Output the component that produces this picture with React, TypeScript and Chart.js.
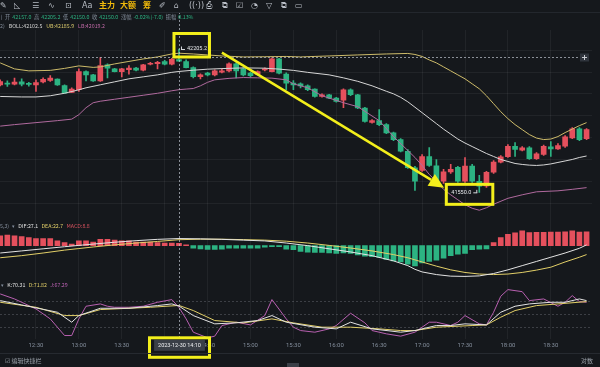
import React, { useEffect, useRef } from 'react';
import { Chart, registerables } from 'chart.js';
Chart.register(...registerables);

// ---------- data (5-minute candles, index 0 = 12:05) ----------
const openP = [42041.5, 42047.4, 42044.6, 42055.1, 42046.0, 42041.5, 42055.1, 42061.0, 42067.4, 42038.3,
  42006.4, 42018.7, 42102.0, 42086.9, 42059.7, 42132.5, 42114.3, 42102.0, 42111.1, 42117.5,
  42108.3, 42135.6, 42138.4, 42147.5, 42135.6, 42157.0, 42147.5, 42120.2, 42079.2, 42094.7,
  42086.9, 42099.3, 42105.2, 42137.0, 42114.3, 42094.7, 42090.1, 42109.7, 42102.0, 42159.7,
  42090.1, 42049.2, 42046.0, 42036.9, 42021.9, 41988.2, 41995.9, 41980.9, 41970.9, 42018.7,
  41995.9, 41935.4, 41869.9, 41877.7, 41859.5, 41821.7, 41791.2, 41737.9, 41662.5, 41650.2,
  41713.9, 41670.7, 41601.5, 41643.4, 41663.8, 41601.5, 41669.7, 41600.1, 41579.6, 41642.4,
  41687.9, 41712.5, 41760.7, 41742.5, 41753.5, 41703.4, 41722.9, 41758.0, 41748.9, 41760.7,
  41798.9, 41839.9, 41795.8];
const highP = [42064.2, 42059.7, 42071.9, 42068.8, 42052.9, 42064.2, 42073.3, 42083.8, 42068.8, 42041.5,
  42027.8, 42114.3, 42105.2, 42089.2, 42165.7, 42137.0, 42116.5, 42116.5, 42129.3, 42121.1,
  42134.7, 42143.8, 42148.4, 42152.9, 42162.0, 42205.2, 42155.2, 42123.4, 42091.5, 42098.4,
  42109.7, 42114.3, 42141.6, 42141.6, 42118.8, 42098.4, 42105.2, 42118.8, 42164.3, 42162.0,
  42096.1, 42061.0, 42050.6, 42041.5, 42023.3, 42000.5, 41998.2, 41984.6, 42023.3, 42023.3,
  41998.2, 41939.0, 41882.2, 41927.7, 41864.0, 41825.4, 41795.8, 41745.7, 41668.4, 41722.9,
  41754.8, 41700.2, 41654.7, 41677.5, 41668.4, 41709.3, 41677.5, 41627.4, 41645.6, 41695.7,
  41718.4, 41768.5, 41777.6, 41759.4, 41759.4, 41732.0, 41766.2, 41782.1, 41773.0, 41809.4,
  41845.8, 41845.8, 41841.3];
const lowP = [42036.9, 42033.7, 42041.5, 42036.9, 42034.7, 42010.9, 42050.6, 42056.5, 42039.2, 42002.8,
  42005.0, 42010.9, 42059.7, 42057.4, 42056.5, 42073.3, 42100.6, 42077.9, 42090.1, 42105.2,
  42105.2, 42132.5, 42114.3, 42132.5, 42132.5, 42150.0, 42118.8, 42073.3, 42068.8, 42082.4,
  42082.4, 42096.1, 42100.6, 42073.3, 42082.4, 42077.9, 42086.9, 42105.2, 42100.6, 42091.5,
  42018.7, 42018.7, 42027.8, 42014.2, 41984.6, 41984.6, 41977.7, 41961.8, 41936.8, 41991.4,
  41932.2, 41870.8, 41866.3, 41854.9, 41818.5, 41786.7, 41734.4, 41659.2, 41559.2, 41645.6,
  41668.4, 41595.6, 41591.0, 41636.5, 41595.6, 41595.6, 41595.6, 41550.0, 41572.8, 41636.5,
  41684.3, 41709.3, 41713.9, 41738.9, 41700.2, 41700.2, 41718.4, 41713.9, 41745.7, 41754.8,
  41795.8, 41786.7, 41791.2];
const closeP = [42056.5, 42044.6, 42053.8, 42044.6, 42043.3, 42051.9, 42066.5, 42071.9, 42041.5, 42003.7,
  42021.9, 42102.0, 42086.9, 42059.7, 42129.3, 42117.5, 42102.0, 42114.3, 42117.5, 42108.3,
  42132.5, 42140.2, 42144.7, 42135.6, 42158.4, 42150.0, 42120.2, 42079.2, 42086.9, 42086.9,
  42105.2, 42105.2, 42137.0, 42105.2, 42086.9, 42083.8, 42102.0, 42114.3, 42159.7, 42094.7,
  42049.2, 42041.5, 42036.9, 42018.7, 41988.2, 41995.9, 41980.9, 41965.5, 42018.7, 41995.9,
  41935.4, 41874.5, 41877.7, 41859.5, 41821.7, 41791.2, 41737.9, 41662.5, 41601.5, 41713.9,
  41672.9, 41601.5, 41643.4, 41654.7, 41601.5, 41669.7, 41601.5, 41578.7, 41641.1, 41687.9,
  41712.5, 41760.7, 41745.7, 41753.5, 41703.4, 41726.1, 41760.7, 41748.9, 41763.9, 41803.5,
  41839.9, 41791.2, 41836.7];

// Bollinger bands [candle index, price]
const ubPts = [[0, 42141.6], [2, 42114.3], [4, 42105.2], [7, 42107.4], [9, 42116.5], [11, 42127.9], [13, 42121.1], [14, 42123.4], [16, 42137.0], [18, 42148.4], [20, 42159.7], [22, 42168.9], [24, 42182.5], [25, 42185.9], [27, 42182.5], [29, 42178.0], [31, 42173.4], [34, 42168.9], [37, 42169.8], [40, 42171.1], [42, 42168.9], [46, 42173.4], [50, 42178.0], [54, 42182.5], [57, 42184.8], [58, 42180.2], [59, 42171.1], [60, 42155.2], [61, 42141.6], [62, 42123.4], [63, 42105.2], [64, 42086.9], [65, 42068.8], [66, 42046.0], [67, 42023.3], [68, 41991.4], [69, 41955.0], [70, 41918.6], [71, 41886.7], [72, 41859.5], [73, 41836.7], [74, 41814.0], [75, 41798.0], [76, 41791.2], [77, 41793.5], [78, 41804.9], [79, 41823.1], [80, 41839.0], [81, 41854.9], [82, 41868.6]];
const mbPts = [[0, 41988.2], [3, 41986.0], [5, 41986.0], [7, 41991.4], [9, 42002.8], [11, 42018.7], [12, 42027.8], [14, 42041.5], [16, 42055.1], [18, 42068.8], [20, 42077.9], [22, 42086.9], [24, 42098.4], [25, 42102.5], [27, 42108.3], [29, 42112.9], [31, 42115.6], [34, 42118.8], [37, 42117.5], [39, 42113.3], [41, 42107.4], [43, 42098.4], [46, 42086.9], [48, 42073.3], [50, 42057.4], [52, 42036.9], [54, 42011.9], [55, 42000.2], [56, 41984.3], [57, 41963.8], [58, 41939.1], [59, 41914.1], [60, 41889.0], [61, 41864.0], [62, 41838.9], [63, 41816.2], [64, 41793.5], [65, 41775.3], [66, 41759.4], [67, 41743.4], [68, 41727.5], [69, 41713.9], [70, 41700.2], [71, 41691.1], [72, 41682.0], [73, 41677.5], [74, 41674.3], [75, 41672.9], [76, 41675.2], [77, 41679.8], [78, 41686.6], [79, 41693.4], [80, 41700.2], [81, 41709.3], [82, 41716.1]];
const lbPts = [[0, 41852.6], [2, 41859.5], [5, 41868.6], [8, 41877.7], [10, 41884.5], [11, 41905.0], [12, 41936.8], [13, 41959.6], [14, 41966.4], [16, 41975.5], [18, 41984.6], [20, 41993.7], [22, 42002.8], [24, 42014.2], [25, 42019.2], [26, 42021.9], [27, 42024.6], [28, 42036.9], [29, 42052.9], [30, 42064.2], [32, 42071.0], [34, 42074.7], [36, 42073.3], [38, 42071.9], [40, 42064.2], [41, 42046.0], [43, 42027.8], [45, 41991.4], [48, 41959.6], [50, 41941.4], [53, 41877.7], [55, 41804.9], [57, 41741.2], [58, 41709.3], [59, 41672.9], [60, 41631.9], [61, 41600.1], [62, 41563.7], [63, 41538.7], [64, 41516.0], [65, 41493.2], [66, 41477.2], [67, 41468.1], [68, 41479.5], [69, 41495.5], [71, 41522.7], [73, 41538.7], [75, 41552.4], [78, 41556.9], [80, 41563.7], [82, 41571.5]];

// MACD
const macdHist = [37, 40, 37, 35, 31, 27, 27, 27, 18, 12, 6, 18, 18, 14, 24, 24, 21, 18, 18, 14,
  14, 14, 12, 10, 10, 8.8, 3, -10, -12, -14, -14, -13, -10, -10, -10, -10, -10, -6, -4, -4,
  -13, -15, -22, -25, -26, -26, -28, -30, -28, -30, -35, -40, -42, -45, -52, -58, -62, -70, -77, -66,
  -60, -55, -48, -38, -32, -30, -15, -13, -12, 12, 31, 43, 49, 56, 50, 51, 51, 52, 52, 53, 56, 52, 53];
const difPts = [[0, -28], [3, -20], [6, -12], [9, -4], [11, 1], [13, 6], [16, 13], [19, 19], [22, 24], [25, 27.1], [28, 26], [31, 24], [34, 21], [37, 18], [40, 10], [43, 0], [46, -12], [49, -24], [52, -38], [55, -58], [57, -76], [58, -90], [59, -100], [61, -110], [63, -116], [65, -117], [67, -115], [69, -106], [71, -92], [73, -76], [75, -60], [77, -44], [79, -28], [81, -10], [82, 3]];
const deaPts = [[0, -46], [3, -38], [6, -28], [9, -17], [11, -11], [13, -5], [16, 3], [19, 10], [22, 16], [25, 22.7], [28, 24.5], [31, 24.5], [34, 23], [37, 21], [40, 17], [43, 10], [46, 1], [49, -9], [52, -20], [55, -34], [57, -46], [58, -54], [59, -62], [61, -78], [63, -92], [65, -102], [67, -108], [69, -110], [71, -108], [73, -102], [75, -93], [77, -82], [79, -62], [81, -44], [82, -34]];

// KDJ
const kPts = [[0, 83], [3, 73], [8, 56.1], [10, 33], [11, 48.4], [14, 65.3], [18, 65.3], [22, 71.5], [24, 75.4], [25, 70.31], [27, 48.4], [30, 29.2], [33, 31.5], [36, 36.9], [38, 48.4], [40, 33], [44, 21.5], [47, 17.6], [49, 33], [52, 17.6], [56, 9.9], [58, 13.7], [61, 25.3], [63, 25.3], [65, 29.2], [68, 26.8], [70, 56.1], [72, 70], [74, 75.4], [77, 79.2], [79, 79.2], [81, 86.9], [82, 83]];
const dPts = [[0, 79.2], [5, 67.6], [9, 48.4], [11, 48.4], [14, 62.3], [21, 67.6], [25, 71.82], [27, 60], [30, 36.9], [34, 31.5], [38, 40.7], [41, 31.5], [45, 21.5], [49, 21.5], [53, 17.6], [56, 13.7], [58, 13.7], [61, 21.5], [66, 25.3], [68, 26.8], [70, 44.6], [72, 60], [75, 71.5], [78, 75.4], [82, 80.7]];
const jPts = [[0, 98.5], [2, 86.9], [5, 63.8], [7, 40.7], [9, 2.2], [10, 2.2], [11, 40.7], [12, 70], [14, 75.4], [15, 70], [16, 67.6], [18, 67.6], [20, 70], [22, 79.2], [24, 85.4], [25, 67.29], [26, 40.7], [27, 9.9], [29, -3], [30, 0.7], [31, 25.3], [33, 33], [35, 26.8], [37, 48.4], [38, 85.4], [40, 40.7], [41, 21.5], [42, 13.7], [44, 9.9], [46, 17.6], [47, 25.3], [49, 53.8], [51, 31.5], [52, 13.7], [54, 6.1], [56, 0.7], [58, 9.9], [60, 33], [61, 33], [63, 25.3], [64, 33], [65, 48.4], [67, 29.2], [68, 26.8], [69, 56.1], [70, 93.1], [71, 108.5], [73, 103.8], [74, 83], [76, 86.9], [78, 70], [79, 79.2], [80, 94.6], [81, 80.7], [82, 79.2]];

// time axis
const tickIdx = [5, 11, 17, 23, 29, 35, 41, 47, 53, 59, 65, 71, 77];
const tickLabels = ['12:30', '13:00', '13:30', '14:00', '14:30', '15:00', '15:30', '16:00', '16:30', '17:00', '17:30', '18:00', '18:30'];

// crosshair / markers / annotation
const crossIdx = 25;
const crossPrice = 42168.9;
const crossLabel = '2023-12-30 14:10';
const maxIdx = 25, maxPrice = 42205.2;
const minIdx = 67, minPrice = 41550.0;
const arrowFrom = [31, 42188.4];
const arrowTo = [62.07, 41571.4];

// ---------- styles ----------
const BG = '#15181c';
const UP = '#e5505d';
const DOWN = '#2cb382';
const GRID = 'rgba(255,255,255,0.055)';
const TXT = '#848e9c';
const YEL = '#f3ef1b';
const FONT = "'Noto Sans CJK SC', Roboto, sans-serif";
const SMALL = '5.5px Roboto, sans-serif';

const pts = (a: number[][]) => a.map(([x, y]) => ({ x, y }));
const isUp = closeP.map((c, i) => c >= openP[i]);
const candleColor = isUp.map((u) => (u ? UP : DOWN));

const overlayPlugin = {
  id: 'overlay',
  afterDraw(chart: any) {
    const { ctx, chartArea: a } = chart;
    const xs = chart.scales.x;
    const ym = chart.scales.yMain;
    ctx.save();
    // crosshair
    const cx = Math.round(xs.getPixelForValue(crossIdx)) + 0.5;
    const cy = Math.round(ym.getPixelForValue(crossPrice)) + 0.5;
    ctx.strokeStyle = 'rgba(190,195,205,0.7)';
    ctx.lineWidth = 1;
    ctx.setLineDash([2, 2]);
    ctx.beginPath();
    ctx.moveTo(cx, a.top - 18);
    ctx.lineTo(cx, a.bottom);
    ctx.moveTo(a.left, cy);
    ctx.lineTo(a.right - 12, cy);
    ctx.stroke();
    ctx.setLineDash([]);
    // plus box at right end
    ctx.fillStyle = '#2f343c';
    ctx.fillRect(a.right - 12, cy - 4, 9, 8);
    ctx.strokeStyle = '#c9ccd1';
    ctx.beginPath();
    ctx.moveTo(a.right - 10, cy);
    ctx.lineTo(a.right - 5, cy);
    ctx.moveTo(a.right - 7.5, cy - 2.5);
    ctx.lineTo(a.right - 7.5, cy + 2.5);
    ctx.stroke();

    ctx.font = SMALL;
    ctx.textBaseline = 'middle';
    // max marker
    const hx = xs.getPixelForValue(maxIdx);
    const hy = ym.getPixelForValue(maxPrice);
    ctx.strokeStyle = '#d8dbe0';
    ctx.fillStyle = '#e6e8eb';
    ctx.beginPath();
    ctx.moveTo(hx + 2, hy + 0.5);
    ctx.lineTo(hx + 6, hy + 0.5);
    ctx.moveTo(hx + 2.5, hy + 0.5);
    ctx.lineTo(hx + 2.5, hy - 2.5);
    ctx.stroke();
    ctx.textAlign = 'left';
    ctx.fillText(maxPrice.toFixed(1), hx + 8, hy);
    // min marker
    const lx = xs.getPixelForValue(minIdx);
    const ly = ym.getPixelForValue(minPrice);
    ctx.beginPath();
    ctx.moveTo(lx - 2, ly + 0.5);
    ctx.lineTo(lx - 6, ly + 0.5);
    ctx.moveTo(lx - 2.5, ly + 0.5);
    ctx.lineTo(lx - 2.5, ly - 2.5);
    ctx.stroke();
    ctx.textAlign = 'right';
    ctx.fillText(minPrice.toFixed(1), lx - 8, ly);

    // date label on the time axis
    const tw = ctx.measureText(crossLabel).width;
    const by = a.bottom + 1;
    ctx.fillStyle = '#3a3f47';
    ctx.fillRect(cx - tw / 2 - 4, by, tw + 8, 11);
    ctx.fillStyle = '#f0f1f3';
    ctx.textAlign = 'center';
    ctx.fillText(crossLabel, cx, by + 6);

    // yellow annotations
    ctx.strokeStyle = YEL;
    ctx.lineWidth = 3;
    ctx.strokeRect(hx - 5, hy - 15.5, 35.5, 23.5);
    ctx.strokeRect(lx - 33, ly - 8, 46.5, 20);
    ctx.strokeRect(cx - 30, by - 2, 60, 19.5);
    const x1 = xs.getPixelForValue(arrowFrom[0]);
    const y1 = ym.getPixelForValue(arrowFrom[1]);
    const x2 = xs.getPixelForValue(arrowTo[0]);
    const y2 = ym.getPixelForValue(arrowTo[1]);
    const ang = Math.atan2(y2 - y1, x2 - x1);
    const hl = 15, hw = 7;
    const bx = x2 - hl * Math.cos(ang), byy = y2 - hl * Math.sin(ang);
    ctx.lineWidth = 2.5;
    ctx.beginPath();
    ctx.moveTo(x1, y1);
    ctx.lineTo(bx, byy);
    ctx.stroke();
    ctx.fillStyle = YEL;
    ctx.beginPath();
    ctx.moveTo(x2, y2);
    ctx.lineTo(bx + hw * Math.sin(ang), byy - hw * Math.cos(ang));
    ctx.lineTo(bx - hw * Math.sin(ang), byy + hw * Math.cos(ang));
    ctx.closePath();
    ctx.fill();
    ctx.restore();
  },
};

const toolbarItems = [
  { l: 0, t: '✎' }, { l: 14, t: '◺' }, { l: 32, t: '☰' }, { l: 48, t: '∿' }, { l: 65, t: '⊡' },
  { l: 82, t: 'Aa' }, { l: 99, t: '主力', c: '#f0b90b' }, { l: 120, t: '大额', c: '#f0b90b' },
  { l: 143, t: '筹', c: '#f0b90b' }, { l: 159, t: '✐' }, { l: 174, t: '⌂' }, { l: 189, t: '((·))' },
  { l: 206, t: '⎙' }, { l: 222, t: '⧉' }, { l: 236, t: '☑' }, { l: 251, t: '◔' }, { l: 266, t: '▽' },
  { l: 281, t: '⧉' }, { l: 295, t: '▭' },
];

const Row = ({ left, top, scale, children }: any) => (
  <div style={{ position: 'absolute', left, top, fontSize: 8, lineHeight: '10px', whiteSpace: 'nowrap', color: TXT, transform: `scale(${scale})`, transformOrigin: '0 0' }}>
    {children}
  </div>
);

export default function App() {
  const ref = useRef<HTMLCanvasElement>(null);
  useEffect(() => {
    document.body.style.margin = '0';
    document.body.style.background = BG;
    const canvas = ref.current!;
    const n = openP.length;
    const idx = Array.from({ length: n }, (_, i) => i);
    const chart = new Chart(canvas, {
      type: 'bar',
      data: {
        datasets: [
          { type: 'line', label: 'MB', data: pts(mbPts), yAxisID: 'yMain', borderColor: '#d6d6d6', borderWidth: 1, pointRadius: 0, order: 0 },
          { type: 'line', label: 'UB', data: pts(ubPts), yAxisID: 'yMain', borderColor: '#cdbb6a', borderWidth: 1, pointRadius: 0, order: 0 },
          { type: 'line', label: 'LB', data: pts(lbPts), yAxisID: 'yMain', borderColor: '#b06a9e', borderWidth: 1, pointRadius: 0, order: 0 },
          { type: 'bar', label: 'body', data: idx.map((i) => ({ x: i, y: [openP[i], closeP[i]] })) as any, yAxisID: 'yMain', backgroundColor: candleColor, barThickness: 5, minBarLength: 1, grouped: false, order: 1 },
          { type: 'bar', label: 'wick', data: idx.map((i) => ({ x: i, y: [lowP[i], highP[i]] })) as any, yAxisID: 'yMain', backgroundColor: candleColor, barThickness: 1, grouped: false, order: 2 },
          { type: 'bar', label: 'MACD', data: idx.map((i) => ({ x: i, y: macdHist[i] })), yAxisID: 'yMacd', backgroundColor: macdHist.map((v) => (v >= 0 ? UP : DOWN)), barThickness: 5, grouped: false, order: 1 },
          { type: 'line', label: 'DIF', data: pts(difPts), yAxisID: 'yMacd', borderColor: '#e3e3e3', borderWidth: 1, pointRadius: 0, order: 0 },
          { type: 'line', label: 'DEA', data: pts(deaPts), yAxisID: 'yMacd', borderColor: '#e2cf68', borderWidth: 1, pointRadius: 0, order: 0 },
          { type: 'line', label: 'K', data: pts(kPts), yAxisID: 'yKdj', borderColor: '#e3e3e3', borderWidth: 1, pointRadius: 0, order: 0 },
          { type: 'line', label: 'D', data: pts(dPts), yAxisID: 'yKdj', borderColor: '#e2cf68', borderWidth: 1, pointRadius: 0, order: 0 },
          { type: 'line', label: 'J', data: pts(jPts), yAxisID: 'yKdj', borderColor: '#b860b0', borderWidth: 1, pointRadius: 0, order: 0 },
        ] as any,
      },
      options: {
        responsive: false,
        animation: false,
        devicePixelRatio: 1,
        events: [],
        layout: { padding: { top: 30, bottom: 15, left: 0, right: 0 } },
        plugins: { legend: { display: false }, tooltip: { enabled: false } },
        scales: {
          x: {
            type: 'linear',
            min: -0.03,
            max: 82.76,
            offset: false,
            afterBuildTicks: (ax: any) => { ax.ticks = tickIdx.map((v) => ({ value: v })); },
            ticks: {
              color: TXT,
              font: { size: 6, family: 'Roboto' },
              padding: 3,
              maxRotation: 0,
              autoSkip: false,
              callback: (v: any) => tickLabels[tickIdx.indexOf(Number(v))] ?? '',
            },
            grid: { color: GRID, drawTicks: false, offset: false },
            border: { display: false },
          },
          yMain: {
            type: 'linear', position: 'right', stack: 'panes', stackWeight: 188,
            min: 41436, max: 42292,
            ticks: { display: false, stepSize: 100, includeBounds: false },
            grid: { color: GRID, drawTicks: false },
            border: { display: false },
          },
          yMacd: {
            type: 'linear', position: 'right', stack: 'panes', stackWeight: 62,
            min: -127, max: 108,
            ticks: { display: false },
            grid: { display: false },
            border: { display: false },
          },
          yKdj: {
            type: 'linear', position: 'right', stack: 'panes', stackWeight: 60,
            min: -5.4, max: 133,
            afterBuildTicks: (ax: any) => { ax.ticks = [20, 50, 80].map((v) => ({ value: v })); },
            ticks: { display: false },
            grid: { color: 'rgba(160,165,175,0.28)', drawTicks: false },
            border: { display: false, dash: [2, 2] },
          },
        } as any,
      },
      plugins: [overlayPlugin],
    });
    return () => chart.destroy();
  }, []);

  const s = (t: string, c: string, ml = 4) => <span style={{ color: c, marginLeft: ml }}>{t}</span>;

  return (
    <div style={{ position: 'fixed', left: 0, top: 0, width: 600, height: 367, background: BG, overflow: 'hidden', fontFamily: FONT }}>
      <canvas ref={ref} width={600} height={367} style={{ position: 'absolute', left: 0, top: 0, width: 600, height: 367 }} />
      {/* toolbar */}
      <div style={{ position: 'absolute', left: 0, top: 0, width: 600, height: 12, borderBottom: '1px solid #23272d' }}>
        {toolbarItems.map((it, i) => (
          <span key={i} style={{ position: 'absolute', left: it.l, top: 0, fontSize: 8, lineHeight: '12px', color: it.c || '#b9bec6', fontWeight: it.c ? 700 : 400, fontFamily: "'DejaVu Sans', 'Noto Sans CJK SC', sans-serif" }}>{it.t}</span>
        ))}
      </div>
      {/* OHLC info */}
      <Row left={0} top={13.5} scale={0.66}>
        <span style={{ marginLeft: 1 }}>)</span>
        {s('开', TXT)}{s('42157.0', DOWN, 3)}
        {s('高', TXT)}{s('42205.2', DOWN, 3)}
        {s('低', TXT)}{s('42150.0', DOWN, 3)}
        {s('收', TXT)}{s('42150.0', DOWN, 3)}
        {s('涨幅', TXT)}{s('-0.02%(-7.0)', DOWN, 3)}
        {s('振幅', TXT)}{s('0.13%', DOWN, 3)}
      </Row>
      {/* BOLL legend */}
      <Row left={0} top={22.5} scale={0.66}>
        <span>2)</span>
        {s('BOLL:42102.5', '#d6d6d6', 6)}
        {s('UB:42185.9', '#d9c86c', 6)}
        {s('LB:42019.2', '#c06aa6', 6)}
      </Row>
      {/* MACD legend */}
      <Row left={0} top={222.5} scale={0.66}>
        <span>5,3)</span>
        {s('▾', TXT, 5)}
        {s('DIF:27.1', '#e3e3e3', 5)}
        {s('DEA:22.7', '#e2cf68', 5)}
        {s('MACD:8.8', '#d9535f', 5)}
      </Row>
      {/* KDJ legend */}
      <Row left={0} top={281.5} scale={0.66}>
        {s('▾', TXT, 2)}
        {s('K:70.31', '#e3e3e3', 5)}
        {s('D:71.82', '#e2cf68', 5)}
        {s('J:67.29', '#b860b0', 5)}
      </Row>
      {/* bottom bar */}
      <div style={{ position: 'absolute', left: 0, top: 353, width: 600, height: 14, borderTop: '1px solid #262a30' }}>
        <Row left={5} top={3} scale={0.75}><span style={{ color: '#9aa0a8' }}>☑ 编辑快捷栏</span></Row>
        <Row left={581} top={3} scale={0.75}><span style={{ color: '#9aa0a8' }}>对数</span></Row>
        <span style={{ position: 'absolute', left: 287, top: 9, width: 12, height: 4, background: '#3a3f47' }} />
      </div>
    </div>
  );
}
